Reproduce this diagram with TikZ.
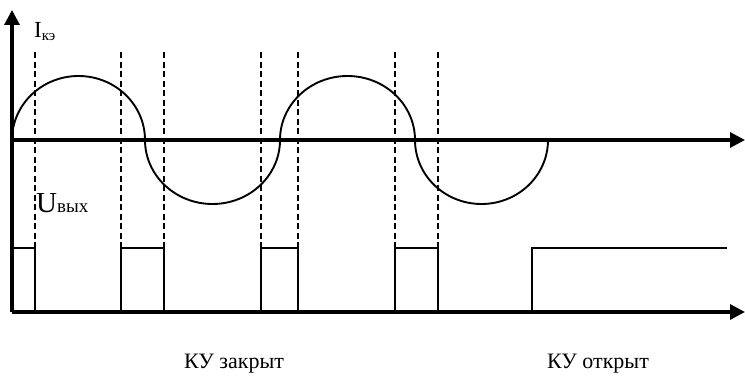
\documentclass[tikz,border=0pt]{standalone}
\usepackage{fontspec}
\setmainfont{Liberation Serif}
\usetikzlibrary{arrows.meta}
\begin{document}
\begin{tikzpicture}[x=1pt,y=1pt,
  axis/.style={line width=3.2pt,-{Triangle[length=15pt,width=15pt]}},
  curve/.style={line width=1.9pt},
  pulse/.style={line width=1.8pt},
  guide/.style={line width=2.8pt,dash pattern=on 6pt off 3.5pt},
  lbl/.style={inner sep=0pt,anchor=base}]
\useasboundingbox (0,0) rectangle (745,384);
% axes
\coordinate (o1) at (12,244);
\coordinate (e1) at (745,244);
\coordinate (o2) at (12,72);
\coordinate (e2) at (745,72);
\coordinate (top) at (12,374);
\draw[axis] (o2) -- (top);
\draw[axis] (o1) -- (e1);
\draw[axis] (o2) -- (e2);
% current curve
\draw[curve] (o1) arc[start angle=180,end angle=0,x radius=66.5,y radius=64]
  arc[start angle=180,end angle=360,x radius=67.5,y radius=64]
  arc[start angle=180,end angle=0,x radius=67.5,y radius=64]
  arc[start angle=180,end angle=360,x radius=66.5,y radius=64];
% guides
\foreach \x in {35,121,164,261,298,395,438}
  \draw[guide] (\x,332) -- (\x,137);
% output pulses
\draw[pulse] (12,136) -- (35,136) -- (35,72);
\draw[pulse] (121,72) -- (121,136) -- (164,136) -- (164,72);
\draw[pulse] (261,72) -- (261,136) -- (298,136) -- (298,72);
\draw[pulse] (395,72) -- (395,136) -- (438,136) -- (438,72);
\draw[pulse] (532,72) -- (532,136) -- (727,136);
% labels
\node[lbl,anchor=base west] (ik) at (34,346) {\fontsize{23}{23}\selectfont I\raisebox{-2pt}{\fontsize{15}{15}\selectfont кэ}};
\node[lbl,anchor=base west] (uv) at (36,172) {\fontsize{29}{29}\selectfont U\fontsize{19}{19}\selectfont вых};
\node[lbl] (cl) at (234,16) {\fontsize{22}{22}\selectfont КУ закрыт};
\node[lbl] (op) at (598,16) {\fontsize{22}{22}\selectfont КУ открыт};
\end{tikzpicture}
\end{document}
